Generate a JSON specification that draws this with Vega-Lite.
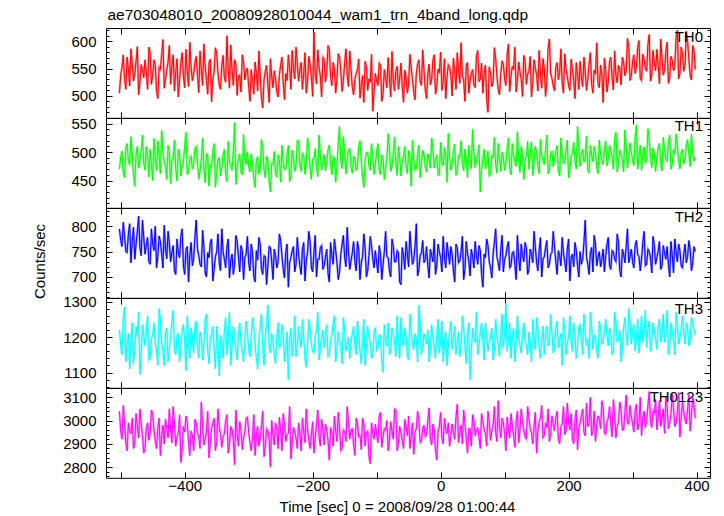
{
"$schema": "https://vega.github.io/schema/vega-lite/v6.json",
"padding": {"left": 32, "top": 7, "right": 5, "bottom": 0},
"background": "white",
"title": {"text": "ae703048010_20080928010044_wam1_trn_4band_long.qdp", "anchor": "start", "fontSize": 15.5, "fontWeight": "normal", "font": "Liberation Sans", "color": "#000", "offset": 4, "dx": 75},
"data": {"values": [
{"t":-502,"a":505,"b":470,"c":795,"d":1220,"e":3040},
{"t":-498,"a":552,"b":502,"c":760,"d":1150,"e":2920},
{"t":-494,"a":530,"b":455,"c":782,"d":1285,"e":2985},
{"t":-490,"a":571,"b":515,"c":748,"d":1180,"e":2870},
{"t":-486,"a":518,"b":478,"c":805,"d":1110,"e":2960},
{"t":-482,"a":560,"b":496,"c":770,"d":1240,"e":3010},
{"t":-478,"a":541,"b":440,"c":735,"d":1165,"e":2900},
{"t":-474,"a":590,"b":510,"c":790,"d":1200,"e":2975},
{"t":-470,"a":525,"b":485,"c":758,"d":1095,"e":3050},
{"t":-466,"a":548,"b":530,"c":812,"d":1235,"e":2935},
{"t":-462,"a":566,"b":468,"c":745,"d":1175,"e":2880},
{"t":-458,"a":512,"b":492,"c":778,"d":1260,"e":2990},
{"t":-454,"a":580,"b":505,"c":725,"d":1140,"e":2945},
{"t":-450,"a":538,"b":450,"c":765,"d":1205,"e":3030},
{"t":-446,"a":557,"b":488,"c":800,"d":1185,"e":2910},
{"t":-442,"a":495,"b":520,"c":740,"d":1120,"e":2965},
{"t":-438,"a":548,"b":462,"c":770,"d":1250,"e":2850},
{"t":-434,"a":603,"b":498,"c":718,"d":1160,"e":2980},
{"t":-430,"a":530,"b":475,"c":755,"d":1215,"e":3005},
{"t":-426,"a":562,"b":512,"c":790,"d":1130,"e":2925},
{"t":-422,"a":521,"b":445,"c":730,"d":1195,"e":2960},
{"t":-418,"a":575,"b":490,"c":762,"d":1275,"e":3060},
{"t":-414,"a":544,"b":470,"c":705,"d":1150,"e":2890},
{"t":-410,"a":498,"b":505,"c":748,"d":1210,"e":2945},
{"t":-406,"a":560,"b":458,"c":780,"d":1170,"e":2820},
{"t":-402,"a":536,"b":482,"c":722,"d":1235,"e":2975},
{"t":-398,"a":585,"b":535,"c":755,"d":1105,"e":3020},
{"t":-394,"a":517,"b":465,"c":690,"d":1190,"e":2905},
{"t":-390,"a":552,"b":493,"c":768,"d":1225,"e":2955},
{"t":-386,"a":540,"b":478,"c":735,"d":1155,"e":2870},
{"t":-382,"a":572,"b":510,"c":812,"d":1245,"e":2990},
{"t":-378,"a":506,"b":452,"c":742,"d":1140,"e":2930},
{"t":-374,"a":548,"b":487,"c":720,"d":1200,"e":3080},
{"t":-370,"a":595,"b":470,"c":760,"d":1180,"e":2895},
{"t":-366,"a":528,"b":498,"c":700,"d":1265,"e":2950},
{"t":-362,"a":561,"b":440,"c":738,"d":1125,"e":2840},
{"t":-358,"a":489,"b":476,"c":775,"d":1210,"e":2965},
{"t":-354,"a":543,"b":515,"c":715,"d":1165,"e":3010},
{"t":-350,"a":578,"b":463,"c":750,"d":1230,"e":2910},
{"t":-346,"a":520,"b":490,"c":728,"d":1090,"e":2975},
{"t":-342,"a":556,"b":472,"c":795,"d":1185,"e":2885},
{"t":-338,"a":533,"b":505,"c":735,"d":1220,"e":2945},
{"t":-334,"a":610,"b":448,"c":760,"d":1150,"e":3025},
{"t":-330,"a":514,"b":483,"c":698,"d":1270,"e":2900},
{"t":-326,"a":547,"b":468,"c":745,"d":1175,"e":2960},
{"t":-322,"a":566,"b":552,"c":725,"d":1205,"e":2810},
{"t":-318,"a":501,"b":475,"c":770,"d":1135,"e":2940},
{"t":-314,"a":538,"b":497,"c":710,"d":1240,"e":2995},
{"t":-310,"a":575,"b":460,"c":752,"d":1160,"e":2875},
{"t":-306,"a":529,"b":488,"c":738,"d":1195,"e":2950},
{"t":-302,"a":551,"b":501,"c":780,"d":1215,"e":3015},
{"t":-298,"a":490,"b":465,"c":712,"d":1145,"e":2905},
{"t":-294,"a":528,"b":480,"c":748,"d":1255,"e":2930},
{"t":-290,"a":562,"b":438,"c":690,"d":1180,"e":2850},
{"t":-286,"a":509,"b":492,"c":733,"d":1110,"e":2975},
{"t":-282,"a":537,"b":470,"c":765,"d":1230,"e":2920},
{"t":-278,"a":478,"b":508,"c":705,"d":1170,"e":3040},
{"t":-274,"a":545,"b":455,"c":740,"d":1200,"e":2890},
{"t":-270,"a":520,"b":485,"c":722,"d":1290,"e":2955},
{"t":-266,"a":568,"b":430,"c":758,"d":1155,"e":2800},
{"t":-262,"a":515,"b":478,"c":695,"d":1190,"e":2935},
{"t":-258,"a":532,"b":462,"c":742,"d":1125,"e":2990},
{"t":-254,"a":498,"b":495,"c":730,"d":1240,"e":2880},
{"t":-250,"a":556,"b":447,"c":772,"d":1175,"e":2960},
{"t":-246,"a":524,"b":483,"c":715,"d":1210,"e":3030},
{"t":-242,"a":541,"b":470,"c":750,"d":1160,"e":2910},
{"t":-238,"a":575,"b":512,"c":680,"d":1080,"e":2945},
{"t":-234,"a":512,"b":458,"c":738,"d":1225,"e":2835},
{"t":-230,"a":550,"b":490,"c":760,"d":1185,"e":2970},
{"t":-226,"a":589,"b":475,"c":725,"d":1145,"e":2925},
{"t":-222,"a":527,"b":520,"c":745,"d":1230,"e":2990},
{"t":-218,"a":561,"b":466,"c":705,"d":1170,"e":2870},
{"t":-214,"a":540,"b":494,"c":768,"d":1200,"e":2955},
{"t":-210,"a":505,"b":480,"c":732,"d":1115,"e":3050},
{"t":-206,"a":572,"b":507,"c":790,"d":1250,"e":2915},
{"t":-202,"a":535,"b":452,"c":718,"d":1180,"e":2940},
{"t":-198,"a":616,"b":488,"c":748,"d":1155,"e":2860},
{"t":-194,"a":522,"b":473,"c":700,"d":1215,"e":2980},
{"t":-190,"a":553,"b":530,"c":735,"d":1135,"e":2930},
{"t":-186,"a":498,"b":468,"c":762,"d":1195,"e":3005},
{"t":-182,"a":567,"b":496,"c":722,"d":1170,"e":2895},
{"t":-178,"a":543,"b":482,"c":755,"d":1235,"e":2960},
{"t":-174,"a":585,"b":512,"c":690,"d":1150,"e":2830},
{"t":-170,"a":519,"b":460,"c":742,"d":1205,"e":2945},
{"t":-166,"a":550,"b":490,"c":775,"d":1260,"e":3020},
{"t":-162,"a":532,"b":477,"c":728,"d":1165,"e":2910},
{"t":-158,"a":571,"b":545,"c":710,"d":1190,"e":2975},
{"t":-154,"a":508,"b":471,"c":765,"d":1125,"e":2880},
{"t":-150,"a":560,"b":498,"c":738,"d":1220,"e":2950},
{"t":-146,"a":538,"b":485,"c":798,"d":1180,"e":3060},
{"t":-142,"a":582,"b":506,"c":715,"d":1140,"e":2920},
{"t":-138,"a":515,"b":463,"c":748,"d":1210,"e":2965},
{"t":-134,"a":530,"b":490,"c":730,"d":1175,"e":2850},
{"t":-130,"a":548,"b":476,"c":770,"d":1245,"e":2990},
{"t":-126,"a":496,"b":520,"c":695,"d":1160,"e":2935},
{"t":-122,"a":537,"b":455,"c":740,"d":1195,"e":3010},
{"t":-118,"a":563,"b":487,"c":758,"d":1120,"e":2890},
{"t":-114,"a":510,"b":500,"c":712,"d":1230,"e":2955},
{"t":-110,"a":525,"b":468,"c":780,"d":1185,"e":2815},
{"t":-106,"a":472,"b":493,"c":735,"d":1150,"e":2945},
{"t":-102,"a":541,"b":478,"c":752,"d":1225,"e":2985},
{"t":-98,"a":519,"b":515,"c":708,"d":1170,"e":2905},
{"t":-94,"a":556,"b":460,"c":745,"d":1205,"e":3035},
{"t":-90,"a":503,"b":489,"c":725,"d":1100,"e":2930},
{"t":-86,"a":533,"b":472,"c":790,"d":1190,"e":2960},
{"t":-82,"a":570,"b":532,"c":738,"d":1240,"e":2870},
{"t":-78,"a":498,"b":466,"c":700,"d":1160,"e":2995},
{"t":-74,"a":527,"b":497,"c":762,"d":1210,"e":2920},
{"t":-70,"a":545,"b":482,"c":730,"d":1145,"e":3045},
{"t":-66,"a":512,"b":510,"c":748,"d":1185,"e":2900},
{"t":-62,"a":560,"b":458,"c":685,"d":1255,"e":2950},
{"t":-58,"a":488,"b":492,"c":742,"d":1175,"e":2880},
{"t":-54,"a":535,"b":475,"c":770,"d":1200,"e":2975},
{"t":-50,"a":522,"b":503,"c":720,"d":1135,"e":3020},
{"t":-46,"a":551,"b":440,"c":755,"d":1220,"e":2935},
{"t":-42,"a":507,"b":486,"c":733,"d":1165,"e":2855},
{"t":-38,"a":540,"b":470,"c":805,"d":1195,"e":2965},
{"t":-34,"a":566,"b":512,"c":715,"d":1290,"e":3000},
{"t":-30,"a":519,"b":480,"c":748,"d":1150,"e":2910},
{"t":-26,"a":547,"b":497,"c":728,"d":1210,"e":2980},
{"t":-22,"a":495,"b":465,"c":760,"d":1180,"e":2940},
{"t":-18,"a":558,"b":488,"c":698,"d":1130,"e":3055},
{"t":-14,"a":530,"b":525,"c":742,"d":1235,"e":2895},
{"t":-10,"a":575,"b":472,"c":775,"d":1170,"e":2960},
{"t":-6,"a":516,"b":495,"c":722,"d":1205,"e":2830},
{"t":-2,"a":542,"b":460,"c":750,"d":1155,"e":2975},
{"t":2,"a":510,"b":483,"c":710,"d":1245,"e":2925},
{"t":6,"a":568,"b":508,"c":738,"d":1185,"e":3010},
{"t":10,"a":534,"b":447,"c":768,"d":1120,"e":2945},
{"t":14,"a":552,"b":490,"c":725,"d":1215,"e":2890},
{"t":18,"a":500,"b":478,"c":745,"d":1165,"e":2985},
{"t":22,"a":545,"b":514,"c":690,"d":1230,"e":2920},
{"t":26,"a":579,"b":468,"c":758,"d":1190,"e":3070},
{"t":30,"a":523,"b":492,"c":732,"d":1145,"e":2950},
{"t":34,"a":537,"b":480,"c":780,"d":1260,"e":2900},
{"t":38,"a":490,"b":505,"c":715,"d":1175,"e":2990},
{"t":42,"a":561,"b":455,"c":748,"d":1205,"e":2860},
{"t":46,"a":528,"b":488,"c":702,"d":1080,"e":2965},
{"t":50,"a":548,"b":540,"c":740,"d":1225,"e":3025},
{"t":54,"a":515,"b":473,"c":770,"d":1185,"e":2935},
{"t":58,"a":583,"b":496,"c":725,"d":1150,"e":2970},
{"t":62,"a":531,"b":430,"c":752,"d":1215,"e":2880},
{"t":66,"a":505,"b":485,"c":680,"d":1195,"e":3000},
{"t":70,"a":556,"b":470,"c":738,"d":1240,"e":2945},
{"t":74,"a":470,"b":502,"c":762,"d":1160,"e":3040},
{"t":78,"a":542,"b":462,"c":718,"d":1200,"e":2915},
{"t":82,"a":524,"b":490,"c":745,"d":1135,"e":2980},
{"t":86,"a":569,"b":478,"c":795,"d":1250,"e":2950},
{"t":90,"a":512,"b":515,"c":728,"d":1180,"e":3085},
{"t":94,"a":540,"b":466,"c":755,"d":1210,"e":2925},
{"t":98,"a":558,"b":492,"c":710,"d":1170,"e":2990},
{"t":102,"a":519,"b":481,"c":742,"d":1295,"e":2870},
{"t":106,"a":595,"b":525,"c":770,"d":1190,"e":2965},
{"t":110,"a":536,"b":460,"c":722,"d":1140,"e":3030},
{"t":114,"a":548,"b":497,"c":750,"d":1225,"e":2940},
{"t":118,"a":507,"b":475,"c":695,"d":1185,"e":2995},
{"t":122,"a":562,"b":488,"c":738,"d":1205,"e":2905},
{"t":126,"a":530,"b":510,"c":765,"d":1155,"e":3050},
{"t":130,"a":574,"b":452,"c":730,"d":1240,"e":2960},
{"t":134,"a":521,"b":493,"c":758,"d":1175,"e":2920},
{"t":138,"a":545,"b":470,"c":715,"d":1215,"e":3010},
{"t":142,"a":498,"b":518,"c":745,"d":1130,"e":2945},
{"t":146,"a":566,"b":483,"c":790,"d":1200,"e":2980},
{"t":150,"a":538,"b":500,"c":728,"d":1255,"e":2860},
{"t":154,"a":583,"b":462,"c":752,"d":1170,"e":2995},
{"t":158,"a":514,"b":494,"c":700,"d":1195,"e":3065},
{"t":162,"a":550,"b":478,"c":740,"d":1150,"e":2935},
{"t":166,"a":527,"b":530,"c":772,"d":1230,"e":2970},
{"t":170,"a":604,"b":468,"c":725,"d":1185,"e":2910},
{"t":174,"a":532,"b":502,"c":748,"d":1210,"e":3020},
{"t":178,"a":509,"b":486,"c":760,"d":1165,"e":2955},
{"t":182,"a":561,"b":512,"c":705,"d":1245,"e":3040},
{"t":186,"a":543,"b":458,"c":742,"d":1190,"e":2900},
{"t":190,"a":522,"b":496,"c":778,"d":1120,"e":2985},
{"t":194,"a":577,"b":480,"c":730,"d":1220,"e":2940},
{"t":198,"a":536,"b":521,"c":755,"d":1180,"e":3075},
{"t":202,"a":510,"b":470,"c":692,"d":1260,"e":2960},
{"t":206,"a":548,"b":498,"c":745,"d":1160,"e":2920},
{"t":210,"a":495,"b":485,"c":768,"d":1205,"e":3005},
{"t":214,"a":539,"b":545,"c":722,"d":1175,"e":2875},
{"t":218,"a":563,"b":475,"c":750,"d":1235,"e":2990},
{"t":222,"a":517,"b":505,"c":735,"d":1150,"e":3050},
{"t":226,"a":545,"b":490,"c":812,"d":1210,"e":2935},
{"t":230,"a":530,"b":468,"c":725,"d":1195,"e":2975},
{"t":234,"a":579,"b":512,"c":748,"d":1270,"e":3100},
{"t":238,"a":505,"b":483,"c":710,"d":1165,"e":2950},
{"t":242,"a":540,"b":500,"c":765,"d":1200,"e":2910},
{"t":246,"a":522,"b":462,"c":738,"d":1140,"e":3020},
{"t":250,"a":556,"b":496,"c":720,"d":1225,"e":2965},
{"t":254,"a":488,"b":478,"c":755,"d":1185,"e":3060},
{"t":258,"a":548,"b":520,"c":742,"d":1250,"e":2940},
{"t":262,"a":526,"b":487,"c":778,"d":1175,"e":3010},
{"t":266,"a":571,"b":503,"c":715,"d":1215,"e":2980},
{"t":270,"a":511,"b":470,"c":750,"d":1160,"e":3090},
{"t":274,"a":538,"b":535,"c":730,"d":1240,"e":2925},
{"t":278,"a":556,"b":482,"c":768,"d":1195,"e":2995},
{"t":282,"a":520,"b":498,"c":700,"d":1130,"e":3045},
{"t":286,"a":562,"b":465,"c":745,"d":1225,"e":2960},
{"t":290,"a":545,"b":510,"c":760,"d":1205,"e":3110},
{"t":294,"a":590,"b":488,"c":728,"d":1280,"e":2985},
{"t":298,"a":536,"b":502,"c":755,"d":1180,"e":3020},
{"t":302,"a":575,"b":476,"c":718,"d":1235,"e":2950},
{"t":306,"a":552,"b":548,"c":772,"d":1195,"e":3070},
{"t":310,"a":601,"b":491,"c":740,"d":1155,"e":2990},
{"t":314,"a":528,"b":468,"c":735,"d":1260,"e":2935},
{"t":318,"a":567,"b":509,"c":790,"d":1210,"e":3040},
{"t":322,"a":545,"b":485,"c":725,"d":1170,"e":3000},
{"t":326,"a":612,"b":522,"c":750,"d":1245,"e":3125},
{"t":330,"a":538,"b":473,"c":708,"d":1190,"e":2970},
{"t":334,"a":560,"b":498,"c":762,"d":1220,"e":3030},
{"t":338,"a":585,"b":490,"c":738,"d":1165,"e":2960},
{"t":342,"a":522,"b":515,"c":770,"d":1250,"e":3085},
{"t":346,"a":570,"b":467,"c":722,"d":1205,"e":3005},
{"t":350,"a":547,"b":503,"c":748,"d":1185,"e":2945},
{"t":354,"a":598,"b":484,"c":760,"d":1275,"e":3060},
{"t":358,"a":533,"b":530,"c":700,"d":1175,"e":2990},
{"t":362,"a":565,"b":478,"c":742,"d":1215,"e":3115},
{"t":366,"a":552,"b":496,"c":775,"d":1150,"e":2975},
{"t":370,"a":620,"b":512,"c":730,"d":1235,"e":3035},
{"t":374,"a":541,"b":470,"c":752,"d":1200,"e":2930},
{"t":378,"a":578,"b":505,"c":718,"d":1260,"e":3080},
{"t":382,"a":556,"b":488,"c":765,"d":1180,"e":3000},
{"t":386,"a":600,"b":522,"c":740,"d":1225,"e":3050},
{"t":390,"a":537,"b":475,"c":755,"d":1190,"e":2955},
{"t":394,"a":592,"b":500,"c":728,"d":1245,"e":3100},
{"t":398,"a":548,"b":492,"c":750,"d":1205,"e":3010},
{"t":-500,"a":538,"b":492,"c":772,"d":1175,"e":2955},
{"t":-496,"a":575,"b":463,"c":808,"d":1255,"e":3065},
{"t":-492,"a":512,"b":508,"c":750,"d":1130,"e":2900},
{"t":-488,"a":549,"b":482,"c":785,"d":1210,"e":2990},
{"t":-484,"a":586,"b":527,"c":728,"d":1190,"e":2945},
{"t":-480,"a":527,"b":459,"c":798,"d":1125,"e":2880},
{"t":-476,"a":563,"b":495,"c":765,"d":1230,"e":3030},
{"t":-472,"a":502,"b":472,"c":820,"d":1270,"e":2925},
{"t":-468,"a":557,"b":503,"c":742,"d":1150,"e":2990},
{"t":-464,"a":533,"b":481,"c":778,"d":1205,"e":2860},
{"t":-460,"a":544,"b":510,"c":762,"d":1215,"e":2970},
{"t":-456,"a":589,"b":456,"c":730,"d":1135,"e":2915},
{"t":-452,"a":521,"b":479,"c":795,"d":1195,"e":3045},
{"t":-448,"a":566,"b":524,"c":752,"d":1240,"e":2960},
{"t":-444,"a":508,"b":467,"c":718,"d":1160,"e":2880},
{"t":-440,"a":552,"b":494,"c":781,"d":1280,"e":3010},
{"t":-436,"a":575,"b":538,"c":745,"d":1180,"e":2935},
{"t":-432,"a":514,"b":484,"c":802,"d":1120,"e":2900},
{"t":-428,"a":547,"b":452,"c":736,"d":1225,"e":2965},
{"t":-424,"a":592,"b":499,"c":768,"d":1170,"e":3050},
{"t":-420,"a":553,"b":486,"c":748,"d":1245,"e":2905},
{"t":-416,"a":509,"b":521,"c":712,"d":1160,"e":2985},
{"t":-412,"a":568,"b":449,"c":775,"d":1205,"e":2930},
{"t":-408,"a":530,"b":497,"c":738,"d":1130,"e":3025},
{"t":-404,"a":579,"b":475,"c":795,"d":1220,"e":2870},
{"t":-400,"a":515,"b":512,"c":705,"d":1185,"e":2950},
{"t":-396,"a":546,"b":460,"c":760,"d":1260,"e":2995},
{"t":-392,"a":598,"b":489,"c":742,"d":1140,"e":2850},
{"t":-388,"a":528,"b":470,"c":722,"d":1200,"e":2935},
{"t":-384,"a":561,"b":507,"c":780,"d":1235,"e":3005},
{"t":-380,"a":537,"b":481,"c":755,"d":1175,"e":2945},
{"t":-376,"a":582,"b":467,"c":725,"d":1215,"e":2880},
{"t":-372,"a":519,"b":525,"c":792,"d":1135,"e":2975},
{"t":-368,"a":555,"b":446,"c":708,"d":1250,"e":2920},
{"t":-364,"a":503,"b":493,"c":748,"d":1160,"e":3040},
{"t":-360,"a":567,"b":477,"c":768,"d":1195,"e":2905},
{"t":-356,"a":532,"b":502,"c":692,"d":1230,"e":2990},
{"t":-352,"a":588,"b":438,"c":740,"d":1110,"e":2870},
{"t":-348,"a":541,"b":488,"c":785,"d":1185,"e":3050},
{"t":-344,"a":512,"b":458,"c":712,"d":1205,"e":2940},
{"t":-340,"a":574,"b":495,"c":750,"d":1140,"e":2930},
{"t":-336,"a":525,"b":461,"c":718,"d":1255,"e":3000},
{"t":-332,"a":548,"b":519,"c":775,"d":1195,"e":2860},
{"t":-328,"a":593,"b":476,"c":732,"d":1120,"e":2975},
{"t":-324,"a":519,"b":503,"c":705,"d":1230,"e":2915},
{"t":-320,"a":558,"b":443,"c":782,"d":1165,"e":3045},
{"t":-316,"a":536,"b":489,"c":740,"d":1210,"e":2890},
{"t":-312,"a":507,"b":465,"c":762,"d":1185,"e":2960},
{"t":-308,"a":562,"b":531,"c":695,"d":1130,"e":2925},
{"t":-304,"a":545,"b":478,"c":745,"d":1245,"e":3010},
{"t":-300,"a":517,"b":474,"c":728,"d":1165,"e":2950},
{"t":-296,"a":548,"b":497,"c":765,"d":1200,"e":2870},
{"t":-292,"a":503,"b":452,"c":700,"d":1225,"e":3025},
{"t":-288,"a":541,"b":486,"c":752,"d":1140,"e":2935},
{"t":-284,"a":582,"b":461,"c":778,"d":1190,"e":2890},
{"t":-280,"a":495,"b":522,"c":715,"d":1265,"e":2980},
{"t":-276,"a":530,"b":469,"c":742,"d":1120,"e":2845},
{"t":-272,"a":556,"b":493,"c":685,"d":1235,"e":2965},
{"t":-268,"a":488,"b":447,"c":760,"d":1175,"e":2920},
{"t":-264,"a":536,"b":481,"c":730,"d":1210,"e":3000},
{"t":-260,"a":546,"b":501,"c":755,"d":1150,"e":2895},
{"t":-256,"a":507,"b":456,"c":718,"d":1205,"e":2960},
{"t":-252,"a":539,"b":487,"c":785,"d":1170,"e":3015},
{"t":-248,"a":571,"b":512,"c":742,"d":1235,"e":2870},
{"t":-244,"a":493,"b":469,"c":698,"d":1130,"e":2985},
{"t":-240,"a":528,"b":495,"c":765,"d":1215,"e":2940},
{"t":-236,"a":552,"b":448,"c":728,"d":1190,"e":3060},
{"t":-232,"a":583,"b":503,"c":752,"d":1145,"e":2900},
{"t":-228,"a":531,"b":466,"c":710,"d":1260,"e":2955},
{"t":-224,"a":560,"b":520,"c":778,"d":1175,"e":2880},
{"t":-220,"a":548,"b":479,"c":722,"d":1195,"e":2945},
{"t":-216,"a":512,"b":498,"c":755,"d":1250,"e":3010},
{"t":-212,"a":579,"b":461,"c":692,"d":1140,"e":2905},
{"t":-208,"a":526,"b":525,"c":748,"d":1180,"e":2965},
{"t":-204,"a":557,"b":472,"c":770,"d":1225,"e":2880},
{"t":-200,"a":499,"b":488,"c":710,"d":1160,"e":2995},
{"t":-196,"a":540,"b":506,"c":782,"d":1205,"e":2930},
{"t":-192,"a":584,"b":457,"c":735,"d":1270,"e":3045},
{"t":-188,"a":536,"b":494,"c":758,"d":1170,"e":2890},
{"t":-184,"a":571,"b":482,"c":715,"d":1220,"e":2960},
{"t":-180,"a":525,"b":467,"c":740,"d":1210,"e":2985},
{"t":-176,"a":592,"b":505,"c":708,"d":1145,"e":2915},
{"t":-172,"a":536,"b":478,"c":768,"d":1190,"e":2970},
{"t":-168,"a":561,"b":492,"c":725,"d":1240,"e":2890},
{"t":-164,"a":505,"b":447,"c":752,"d":1130,"e":2955},
{"t":-160,"a":577,"b":516,"c":695,"d":1215,"e":3035},
{"t":-156,"a":545,"b":483,"c":745,"d":1175,"e":2870},
{"t":-152,"a":528,"b":527,"c":782,"d":1255,"e":2960},
{"t":-148,"a":586,"b":462,"c":720,"d":1160,"e":2910},
{"t":-144,"a":517,"b":504,"c":750,"d":1200,"e":2995},
{"t":-140,"a":549,"b":475,"c":732,"d":1185,"e":2960},
{"t":-136,"a":502,"b":492,"c":770,"d":1230,"e":2895},
{"t":-132,"a":541,"b":468,"c":712,"d":1150,"e":3010},
{"t":-128,"a":567,"b":510,"c":755,"d":1205,"e":2930},
{"t":-124,"a":520,"b":483,"c":728,"d":1125,"e":2875},
{"t":-120,"a":488,"b":438,"c":785,"d":1250,"e":2985},
{"t":-116,"a":553,"b":499,"c":700,"d":1170,"e":2950},
{"t":-112,"a":531,"b":476,"c":742,"d":1200,"e":2845},
{"t":-108,"a":576,"b":515,"c":762,"d":1140,"e":2990},
{"t":-104,"a":508,"b":461,"c":718,"d":1220,"e":2920},
{"t":-100,"a":527,"b":500,"c":728,"d":1160,"e":2940},
{"t":-96,"a":560,"b":469,"c":762,"d":1205,"e":3020},
{"t":-92,"a":490,"b":495,"c":695,"d":1130,"e":2885},
{"t":-88,"a":548,"b":452,"c":750,"d":1235,"e":2965},
{"t":-84,"a":515,"b":487,"c":740,"d":1175,"e":3000},
{"t":-80,"a":536,"b":507,"c":712,"d":1150,"e":2915},
{"t":-76,"a":581,"b":474,"c":775,"d":1225,"e":2955},
{"t":-72,"a":509,"b":526,"c":730,"d":1185,"e":3050},
{"t":-68,"a":554,"b":459,"c":752,"d":1260,"e":2870},
{"t":-64,"a":532,"b":491,"c":690,"d":1140,"e":2975},
{"t":-60,"a":518,"b":484,"c":758,"d":1190,"e":2915},
{"t":-56,"a":547,"b":510,"c":715,"d":1225,"e":3005},
{"t":-52,"a":505,"b":462,"c":745,"d":1145,"e":2935},
{"t":-48,"a":576,"b":495,"c":790,"d":1265,"e":2880},
{"t":-44,"a":530,"b":521,"c":725,"d":1180,"e":2990},
{"t":-40,"a":493,"b":468,"c":760,"d":1210,"e":2950},
{"t":-36,"a":558,"b":497,"c":702,"d":1130,"e":3040},
{"t":-32,"a":527,"b":455,"c":742,"d":1240,"e":2905},
{"t":-28,"a":584,"b":503,"c":772,"d":1175,"e":2965},
{"t":-24,"a":511,"b":474,"c":735,"d":1195,"e":2930},
{"t":-20,"a":541,"b":497,"c":722,"d":1220,"e":3000},
{"t":-16,"a":520,"b":472,"c":755,"d":1160,"e":2920},
{"t":-12,"a":566,"b":506,"c":730,"d":1200,"e":2985},
{"t":-8,"a":503,"b":485,"c":705,"d":1140,"e":2870},
{"t":-4,"a":549,"b":459,"c":765,"d":1250,"e":2955},
{"t":0,"a":580,"b":517,"c":738,"d":1190,"e":3035},
{"t":4,"a":526,"b":476,"c":780,"d":1130,"e":2900},
{"t":8,"a":495,"b":496,"c":718,"d":1215,"e":2960},
{"t":12,"a":557,"b":533,"c":748,"d":1175,"e":2990},
{"t":16,"a":538,"b":468,"c":760,"d":1245,"e":2935},
{"t":20,"a":569,"b":502,"c":712,"d":1200,"e":2950},
{"t":24,"a":512,"b":459,"c":765,"d":1150,"e":3015},
{"t":28,"a":548,"b":494,"c":728,"d":1215,"e":2905},
{"t":32,"a":597,"b":520,"c":750,"d":1180,"e":2980},
{"t":36,"a":529,"b":467,"c":695,"d":1225,"e":3045},
{"t":40,"a":556,"b":489,"c":770,"d":1125,"e":2925},
{"t":44,"a":505,"b":512,"c":732,"d":1240,"e":2965},
{"t":48,"a":541,"b":471,"c":755,"d":1160,"e":2890},
{"t":52,"a":520,"b":498,"c":718,"d":1195,"e":3000},
{"t":56,"a":574,"b":484,"c":742,"d":1270,"e":2955},
{"t":60,"a":526,"b":513,"c":762,"d":1175,"e":2925},
{"t":64,"a":560,"b":470,"c":705,"d":1240,"e":3030},
{"t":68,"a":541,"b":505,"c":745,"d":1135,"e":2960},
{"t":72,"a":495,"b":482,"c":775,"d":1205,"e":2890},
{"t":76,"a":553,"b":457,"c":730,"d":1185,"e":2995},
{"t":80,"a":517,"b":494,"c":698,"d":1225,"e":2955},
{"t":84,"a":588,"b":526,"c":768,"d":1160,"e":3060},
{"t":88,"a":536,"b":463,"c":740,"d":1200,"e":2910},
{"t":92,"a":502,"b":488,"c":712,"d":1145,"e":2975},
{"t":96,"a":564,"b":500,"c":782,"d":1265,"e":3010},
{"t":100,"a":531,"b":468,"c":735,"d":1215,"e":2945},
{"t":104,"a":576,"b":506,"c":760,"d":1160,"e":3015},
{"t":108,"a":508,"b":471,"c":718,"d":1240,"e":2925},
{"t":112,"a":554,"b":515,"c":748,"d":1205,"e":2980},
{"t":116,"a":589,"b":482,"c":725,"d":1130,"e":2885},
{"t":120,"a":528,"b":536,"c":782,"d":1260,"e":3040},
{"t":124,"a":544,"b":464,"c":712,"d":1175,"e":2960},
{"t":128,"a":499,"b":498,"c":742,"d":1210,"e":2995},
{"t":132,"a":563,"b":487,"c":768,"d":1190,"e":2930},
{"t":136,"a":540,"b":519,"c":705,"d":1150,"e":3060},
{"t":140,"a":572,"b":495,"c":755,"d":1185,"e":2965},
{"t":144,"a":525,"b":459,"c":728,"d":1250,"e":2900},
{"t":148,"a":551,"b":510,"c":760,"d":1165,"e":3035},
{"t":152,"a":509,"b":476,"c":712,"d":1220,"e":2955},
{"t":156,"a":542,"b":522,"c":778,"d":1140,"e":3010},
{"t":160,"a":568,"b":485,"c":735,"d":1230,"e":2925},
{"t":164,"a":499,"b":505,"c":758,"d":1205,"e":2990},
{"t":168,"a":587,"b":462,"c":718,"d":1175,"e":3050},
{"t":172,"a":541,"b":497,"c":745,"d":1265,"e":2945},
{"t":176,"a":518,"b":474,"c":790,"d":1155,"e":2985},
{"t":180,"a":553,"b":502,"c":730,"d":1225,"e":3010},
{"t":184,"a":530,"b":467,"c":752,"d":1170,"e":2920},
{"t":188,"a":586,"b":525,"c":722,"d":1210,"e":2975},
{"t":192,"a":505,"b":481,"c":748,"d":1255,"e":3060},
{"t":196,"a":548,"b":504,"c":710,"d":1150,"e":2955},
{"t":200,"a":519,"b":455,"c":775,"d":1205,"e":2995},
{"t":204,"a":567,"b":492,"c":738,"d":1185,"e":3030},
{"t":208,"a":528,"b":517,"c":720,"d":1240,"e":2900},
{"t":212,"a":561,"b":470,"c":752,"d":1140,"e":3045},
{"t":216,"a":512,"b":509,"c":700,"d":1230,"e":2970},
{"t":220,"a":534,"b":498,"c":725,"d":1190,"e":3020},
{"t":224,"a":571,"b":482,"c":768,"d":1265,"e":2950},
{"t":228,"a":510,"b":528,"c":740,"d":1175,"e":3075},
{"t":232,"a":558,"b":463,"c":705,"d":1140,"e":2990},
{"t":236,"a":521,"b":495,"c":758,"d":1230,"e":2935},
{"t":240,"a":547,"b":510,"c":782,"d":1205,"e":3040},
{"t":244,"a":597,"b":472,"c":722,"d":1160,"e":2980},
{"t":248,"a":515,"b":521,"c":750,"d":1245,"e":3005},
{"t":252,"a":538,"b":484,"c":735,"d":1180,"e":3085},
{"t":256,"a":569,"b":506,"c":710,"d":1215,"e":2945},
{"t":260,"a":507,"b":476,"c":765,"d":1205,"e":2995},
{"t":264,"a":563,"b":512,"c":722,"d":1225,"e":3060},
{"t":268,"a":533,"b":491,"c":752,"d":1150,"e":2930},
{"t":272,"a":582,"b":524,"c":735,"d":1270,"e":3025},
{"t":276,"a":524,"b":465,"c":785,"d":1185,"e":2975},
{"t":280,"a":549,"b":503,"c":712,"d":1220,"e":3080},
{"t":284,"a":571,"b":487,"c":755,"d":1165,"e":2960},
{"t":288,"a":537,"b":539,"c":728,"d":1255,"e":3035},
{"t":292,"a":605,"b":472,"c":795,"d":1175,"e":2990},
{"t":296,"a":528,"b":516,"c":740,"d":1240,"e":3065},
{"t":300,"a":563,"b":485,"c":730,"d":1215,"e":2985},
{"t":304,"a":541,"b":527,"c":762,"d":1160,"e":3045},
{"t":308,"a":589,"b":470,"c":745,"d":1250,"e":2960},
{"t":312,"a":532,"b":512,"c":712,"d":1200,"e":3100},
{"t":316,"a":576,"b":498,"c":768,"d":1185,"e":3010},
{"t":320,"a":550,"b":480,"c":722,"d":1275,"e":2970},
{"t":324,"a":594,"b":541,"c":755,"d":1225,"e":3065},
{"t":328,"a":527,"b":492,"c":738,"d":1160,"e":2995},
{"t":332,"a":583,"b":507,"c":780,"d":1240,"e":3040},
{"t":336,"a":546,"b":466,"c":725,"d":1195,"e":3090},
{"t":340,"a":557,"b":509,"c":752,"d":1230,"e":3010},
{"t":344,"a":604,"b":478,"c":715,"d":1185,"e":2975},
{"t":348,"a":538,"b":526,"c":762,"d":1265,"e":3050},
{"t":352,"a":581,"b":488,"c":735,"d":1210,"e":3100},
{"t":356,"a":523,"b":517,"c":725,"d":1150,"e":2965},
{"t":360,"a":572,"b":470,"c":770,"d":1240,"e":3030},
{"t":364,"a":546,"b":505,"c":708,"d":1195,"e":3055},
{"t":368,"a":608,"b":532,"c":750,"d":1270,"e":2990},
{"t":372,"a":531,"b":483,"c":765,"d":1180,"e":3120},
{"t":376,"a":589,"b":498,"c":722,"d":1225,"e":3015},
{"t":380,"a":545,"b":479,"c":745,"d":1215,"e":3040},
{"t":384,"a":618,"b":513,"c":728,"d":1240,"e":2985},
{"t":388,"a":566,"b":496,"c":772,"d":1175,"e":3110},
{"t":392,"a":529,"b":531,"c":712,"d":1255,"e":3025},
{"t":396,"a":583,"b":484,"c":760,"d":1220,"e":3065}
]},
"spacing": 0,
"bounds": "flush",
"vconcat": [
{"width": 604, "height": 89.8,
 "title": {"text": "TH0", "anchor": "end", "frame": "group", "offset": -17, "dx": -7},
 "layer": [
  {"mark": {"type": "line", "color": "#ff0000", "strokeWidth": 2.2, "opacity": 0.4, "clip": true},
   "encoding": {
    "order": {"field": "t", "type": "quantitative"},
    "x": {"field": "t", "type": "quantitative", "scale": {"domain": [-523, 421], "nice": false, "zero": false}, "axis": {"orient": "bottom", "values": [-500,-400,-300,-200,-100,0,100,200,300,400], "labels": false, "title": null}},
    "y": {"field": "a", "type": "quantitative", "scale": {"domain": [460, 624], "nice": false, "zero": false}, "axis": {"orient": "left", "values": [500,550,600], "format": "d", "title": null}}}},
  {"mark": {"type": "line", "color": "#ff0000", "strokeWidth": 1, "clip": true},
   "encoding": {
    "order": {"field": "t", "type": "quantitative"},
    "x": {"field": "t", "type": "quantitative", "axis": {"orient": "top", "values": [-500,-400,-300,-200,-100,0,100,200,300,400], "labels": false, "title": null}},
    "y": {"field": "a", "type": "quantitative", "axis": {"orient": "right", "values": [500,550,600], "labels": false, "title": null}}}},
  {"mark": {"type": "line", "opacity": 0},
   "encoding": {
    "x": {"field": "t", "type": "quantitative", "axis": null},
    "y": {"field": "a", "type": "quantitative", "axis": {"orient": "left", "values": [470,480,490,510,520,530,540,560,570,580,590,610,620], "labels": false, "tickSize": -3, "title": null}}}},
  {"mark": {"type": "line", "opacity": 0},
   "encoding": {
    "x": {"field": "t", "type": "quantitative", "axis": null},
    "y": {"field": "a", "type": "quantitative", "axis": {"orient": "right", "values": [470,480,490,510,520,530,540,560,570,580,590,610,620], "labels": false, "tickSize": -3, "title": null}}}}
 ],
 "resolve": {"axis": {"x": "independent", "y": "independent"}}
},
{"width": 604, "height": 89.8,
 "title": {"text": "TH1", "anchor": "end", "frame": "group", "offset": -17, "dx": -7},
 "layer": [
  {"mark": {"type": "line", "color": "#00ff00", "strokeWidth": 2.2, "opacity": 0.4, "clip": true},
   "encoding": {
    "order": {"field": "t", "type": "quantitative"},
    "x": {"field": "t", "type": "quantitative", "scale": {"domain": [-523, 421], "nice": false, "zero": false}, "axis": {"orient": "bottom", "values": [-500,-400,-300,-200,-100,0,100,200,300,400], "labels": false, "title": null}},
    "y": {"field": "b", "type": "quantitative", "scale": {"domain": [402, 560], "nice": false, "zero": false}, "axis": {"orient": "left", "values": [450,500,550], "format": "d", "title": null}}}},
  {"mark": {"type": "line", "color": "#00ff00", "strokeWidth": 1, "clip": true},
   "encoding": {
    "order": {"field": "t", "type": "quantitative"},
    "x": {"field": "t", "type": "quantitative", "axis": {"orient": "top", "values": [-500,-400,-300,-200,-100,0,100,200,300,400], "labels": false, "title": null}},
    "y": {"field": "b", "type": "quantitative", "axis": {"orient": "right", "values": [450,500,550], "labels": false, "title": null}}}},
  {"mark": {"type": "line", "opacity": 0},
   "encoding": {
    "x": {"field": "t", "type": "quantitative", "axis": null},
    "y": {"field": "b", "type": "quantitative", "axis": {"orient": "left", "values": [410,420,430,440,460,470,480,490,510,520,530,540], "labels": false, "tickSize": -3, "title": null}}}},
  {"mark": {"type": "line", "opacity": 0},
   "encoding": {
    "x": {"field": "t", "type": "quantitative", "axis": null},
    "y": {"field": "b", "type": "quantitative", "axis": {"orient": "right", "values": [410,420,430,440,460,470,480,490,510,520,530,540], "labels": false, "tickSize": -3, "title": null}}}}
 ],
 "resolve": {"axis": {"x": "independent", "y": "independent"}}
},
{"width": 604, "height": 89.8,
 "title": {"text": "TH2", "anchor": "end", "frame": "group", "offset": -17, "dx": -7},
 "layer": [
  {"mark": {"type": "line", "color": "#0000ff", "strokeWidth": 2.2, "opacity": 0.4, "clip": true},
   "encoding": {
    "order": {"field": "t", "type": "quantitative"},
    "x": {"field": "t", "type": "quantitative", "scale": {"domain": [-523, 421], "nice": false, "zero": false}, "axis": {"orient": "bottom", "values": [-500,-400,-300,-200,-100,0,100,200,300,400], "labels": false, "title": null}},
    "y": {"field": "c", "type": "quantitative", "scale": {"domain": [659, 836], "nice": false, "zero": false}, "axis": {"orient": "left", "values": [700,750,800], "format": "d", "title": "Counts/sec", "titlePadding": 23, "titleY": 53}}}},
  {"mark": {"type": "line", "color": "#0000ff", "strokeWidth": 1, "clip": true},
   "encoding": {
    "order": {"field": "t", "type": "quantitative"},
    "x": {"field": "t", "type": "quantitative", "axis": {"orient": "top", "values": [-500,-400,-300,-200,-100,0,100,200,300,400], "labels": false, "title": null}},
    "y": {"field": "c", "type": "quantitative", "axis": {"orient": "right", "values": [700,750,800], "labels": false, "title": null}}}},
  {"mark": {"type": "line", "opacity": 0},
   "encoding": {
    "x": {"field": "t", "type": "quantitative", "axis": null},
    "y": {"field": "c", "type": "quantitative", "axis": {"orient": "left", "values": [660,670,680,690,710,720,730,740,760,770,780,790,810,820,830], "labels": false, "tickSize": -3, "title": null}}}},
  {"mark": {"type": "line", "opacity": 0},
   "encoding": {
    "x": {"field": "t", "type": "quantitative", "axis": null},
    "y": {"field": "c", "type": "quantitative", "axis": {"orient": "right", "values": [660,670,680,690,710,720,730,740,760,770,780,790,810,820,830], "labels": false, "tickSize": -3, "title": null}}}}
 ],
 "resolve": {"axis": {"x": "independent", "y": "independent"}}
},
{"width": 604, "height": 89.8,
 "title": {"text": "TH3", "anchor": "end", "frame": "group", "offset": -22, "dx": -7},
 "layer": [
  {"mark": {"type": "line", "color": "#00ffff", "strokeWidth": 2.2, "opacity": 0.4, "clip": true},
   "encoding": {
    "order": {"field": "t", "type": "quantitative"},
    "x": {"field": "t", "type": "quantitative", "scale": {"domain": [-523, 421], "nice": false, "zero": false}, "axis": {"orient": "bottom", "values": [-500,-400,-300,-200,-100,0,100,200,300,400], "labels": false, "title": null}},
    "y": {"field": "d", "type": "quantitative", "scale": {"domain": [1057, 1310], "nice": false, "zero": false}, "axis": {"orient": "left", "values": [1100,1200,1300], "format": "d", "title": null}}}},
  {"mark": {"type": "line", "color": "#00ffff", "strokeWidth": 1, "clip": true},
   "encoding": {
    "order": {"field": "t", "type": "quantitative"},
    "x": {"field": "t", "type": "quantitative", "axis": {"orient": "top", "values": [-500,-400,-300,-200,-100,0,100,200,300,400], "labels": false, "title": null}},
    "y": {"field": "d", "type": "quantitative", "axis": {"orient": "right", "values": [1100,1200,1300], "labels": false, "title": null}}}},
  {"mark": {"type": "line", "opacity": 0},
   "encoding": {
    "x": {"field": "t", "type": "quantitative", "axis": null},
    "y": {"field": "d", "type": "quantitative", "axis": {"orient": "left", "values": [1060,1080,1120,1140,1160,1180,1220,1240,1260,1280], "labels": false, "tickSize": -3, "title": null}}}},
  {"mark": {"type": "line", "opacity": 0},
   "encoding": {
    "x": {"field": "t", "type": "quantitative", "axis": null},
    "y": {"field": "d", "type": "quantitative", "axis": {"orient": "right", "values": [1060,1080,1120,1140,1160,1180,1220,1240,1260,1280], "labels": false, "tickSize": -3, "title": null}}}}
 ],
 "resolve": {"axis": {"x": "independent", "y": "independent"}}
},
{"width": 604, "height": 89.8,
 "title": {"text": "TH0123", "anchor": "end", "frame": "group", "offset": -17, "dx": -7},
 "layer": [
  {"mark": {"type": "line", "color": "#ff00ff", "strokeWidth": 2.2, "opacity": 0.4, "clip": true},
   "encoding": {
    "order": {"field": "t", "type": "quantitative"},
    "x": {"field": "t", "type": "quantitative", "scale": {"domain": [-523, 421], "nice": false, "zero": false}, "axis": {"orient": "bottom", "values": [-500,-400,-300,-200,-100,0,100,200,300,400], "labelExpr": "datum.value % 200 == 0 ? datum.label : ''", "labelPadding": 7, "title": "Time [sec] 0 = 2008/09/28 01:00:44", "titlePadding": 6, "titleX": 291}},
    "y": {"field": "e", "type": "quantitative", "scale": {"domain": [2754, 3140], "nice": false, "zero": false}, "axis": {"orient": "left", "values": [2800,2900,3000,3100], "format": "d", "title": null}}}},
  {"mark": {"type": "line", "color": "#ff00ff", "strokeWidth": 1, "clip": true},
   "encoding": {
    "order": {"field": "t", "type": "quantitative"},
    "x": {"field": "t", "type": "quantitative", "axis": {"orient": "top", "values": [-500,-400,-300,-200,-100,0,100,200,300,400], "labels": false, "title": null}},
    "y": {"field": "e", "type": "quantitative", "axis": {"orient": "right", "values": [2800,2900,3000,3100], "labels": false, "title": null}}}},
  {"mark": {"type": "line", "opacity": 0},
   "encoding": {
    "x": {"field": "t", "type": "quantitative", "axis": null},
    "y": {"field": "e", "type": "quantitative", "axis": {"orient": "left", "values": [2760,2780,2820,2840,2860,2880,2920,2940,2960,2980,3020,3040,3060,3080,3120], "labels": false, "tickSize": -3, "title": null}}}},
  {"mark": {"type": "line", "opacity": 0},
   "encoding": {
    "x": {"field": "t", "type": "quantitative", "axis": null},
    "y": {"field": "e", "type": "quantitative", "axis": {"orient": "right", "values": [2760,2780,2820,2840,2860,2880,2920,2940,2960,2980,3020,3040,3060,3080,3120], "labels": false, "tickSize": -3, "title": null}}}}
 ],
 "resolve": {"axis": {"x": "independent", "y": "independent"}}
}
],
"config": {
 "font": "Liberation Sans",
 "view": {"stroke": "#000", "strokeWidth": 1},
 "title": {"fontSize": 15, "fontWeight": "normal", "color": "#000", "font": "Liberation Sans"},
 "axis": {"domain": false, "grid": false, "tickColor": "#000", "tickSize": -6, "tickWidth": 1, "labelFont": "Liberation Sans", "labelFontSize": 15, "labelColor": "#000", "labelPadding": 16, "labelFlush": false, "labelOverlap": false, "titleFont": "Liberation Sans", "titleFontSize": 15, "titleFontWeight": "normal", "titleColor": "#000", "zindex": 1}
}
}
